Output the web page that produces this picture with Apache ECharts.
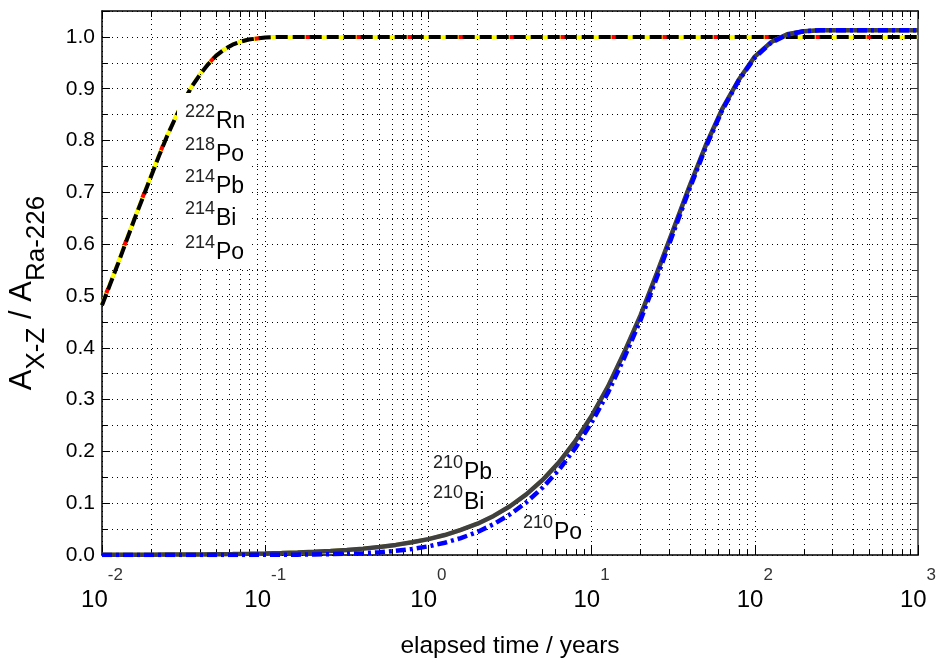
<!DOCTYPE html>
<html><head><meta charset="utf-8">
<script src="https://cdn.jsdelivr.net/npm/echarts@6/dist/echarts.min.js"></script>
<style>html,body{margin:0;padding:0;background:#fff}#c{width:937px;height:660px}</style>
</head><body><div id="c"></div>
<script>
// ---- data ----
// short-lived 222Rn daughters (time in years)
const tShort = [0.01, 0.0112, 0.0126, 0.0141, 0.0158, 0.0178, 0.02, 0.0224, 0.0251, 0.0282,
  0.0316, 0.0355, 0.0398, 0.0447, 0.0501, 0.0562, 0.0631, 0.0708, 0.0794, 0.0891,
  0.1, 0.126, 0.2, 1, 10, 100, 1000];
const rn222 = [0.484, 0.524, 0.566, 0.608, 0.650, 0.692, 0.733, 0.773, 0.810, 0.845,
  0.877, 0.905, 0.928, 0.948, 0.964, 0.976, 0.985, 0.991, 0.995, 0.997,
  0.999, 1.000, 1.000, 1.000, 1.000, 1.000, 1.000];
const po218 = [0.484, 0.524, 0.566, 0.608, 0.650, 0.692, 0.733, 0.773, 0.810, 0.845,
  0.877, 0.905, 0.928, 0.948, 0.964, 0.976, 0.985, 0.991, 0.995, 0.997,
  0.999, 1.000, 1.000, 1.000, 1.000, 1.000, 1.000];
const pb214 = [0.483, 0.523, 0.565, 0.607, 0.649, 0.691, 0.732, 0.772, 0.809, 0.844,
  0.876, 0.904, 0.928, 0.948, 0.964, 0.976, 0.985, 0.991, 0.995, 0.997,
  0.999, 1.000, 1.000, 1.000, 1.000, 1.000, 1.000];
const bi214 = [0.482, 0.522, 0.564, 0.606, 0.648, 0.690, 0.731, 0.771, 0.809, 0.844,
  0.876, 0.904, 0.927, 0.947, 0.964, 0.976, 0.985, 0.991, 0.995, 0.997,
  0.999, 1.000, 1.000, 1.000, 1.000, 1.000, 1.000];
const po214 = [0.482, 0.522, 0.564, 0.606, 0.648, 0.690, 0.731, 0.771, 0.809, 0.844,
  0.876, 0.904, 0.927, 0.947, 0.964, 0.976, 0.985, 0.991, 0.995, 0.997,
  0.999, 1.000, 1.000, 1.000, 1.000, 1.000, 1.000];
// long-lived 210Pb chain
const tLong = [0.01, 0.0126, 0.0158, 0.02, 0.0251, 0.0316, 0.0398, 0.0501, 0.0631, 0.0794,
  0.1, 0.126, 0.158, 0.2, 0.251, 0.316, 0.398, 0.501, 0.631, 0.794,
  1, 1.26, 1.58, 2, 2.51, 3.16, 3.98, 5.01, 6.31, 7.94,
  10, 12.6, 15.8, 20, 25.1, 31.6, 39.8, 50.1, 63.1, 79.4,
  100, 126, 158, 200, 251, 316, 398, 501, 631, 794, 1000];
const pb210 = [0.0003, 0.0004, 0.0005, 0.0006, 0.0008, 0.0010, 0.0012, 0.0016, 0.0020, 0.0025,
  0.0031, 0.0039, 0.0049, 0.0062, 0.0078, 0.0098, 0.0123, 0.0155, 0.0195, 0.0245,
  0.0307, 0.0385, 0.0483, 0.0604, 0.0754, 0.0940, 0.1169, 0.1449, 0.1788, 0.2196,
  0.2682, 0.3250, 0.3903, 0.4636, 0.5436, 0.6274, 0.7115, 0.7909, 0.8605, 0.9163,
  0.962, 0.990, 1.005, 1.011, 1.013, 1.013, 1.013, 1.013, 1.013, 1.013, 1.013];
const bi210 = [0.0003, 0.0004, 0.0005, 0.0006, 0.0008, 0.0010, 0.0012, 0.0016, 0.0020, 0.0025,
  0.0031, 0.0039, 0.0049, 0.0062, 0.0078, 0.0098, 0.0123, 0.0155, 0.0195, 0.0245,
  0.0307, 0.0385, 0.0483, 0.0604, 0.0754, 0.0940, 0.1169, 0.1449, 0.1788, 0.2196,
  0.2682, 0.3250, 0.3903, 0.4636, 0.5436, 0.6274, 0.7115, 0.7909, 0.8605, 0.9163,
  0.962, 0.990, 1.005, 1.011, 1.013, 1.013, 1.013, 1.013, 1.013, 1.013, 1.013];
const po210 = [0.0000, 0.0000, 0.0000, 0.0000, 0.0000, 0.0000, 0.0001, 0.0001, 0.0001, 0.0002,
  0.0003, 0.0004, 0.0007, 0.0010, 0.0016, 0.0024, 0.0036, 0.0054, 0.0080, 0.0117,
  0.0167, 0.0236, 0.0327, 0.0445, 0.0596, 0.0783, 0.1016, 0.1300, 0.1646, 0.2061,
  0.2555, 0.3133, 0.3797, 0.4543, 0.5356, 0.6209, 0.7065, 0.7873, 0.8581, 0.9148,
  0.960, 0.989, 1.004, 1.011, 1.013, 1.013, 1.013, 1.013, 1.013, 1.013, 1.013];
const decades = [-2, -1, 0, 1, 2];
const minorMult = [2, 3, 4, 5, 6, 7, 8, 9];
const xMin = 0.01, xMax = 1000;
const yMin = 0, yMax = 1.05;

// ---- chart ----
const FONT = 'Liberation Sans';
const dotted = {color: '#000', width: 1, type: [1, 4]};
const pair = (t, v) => t.map((x, i) => [x, v[i]]);
const chart = echarts.init(document.getElementById('c'));

function line(name, t, v, color, width, dash, z, extra) {
  return {
    name, type: 'line', data: pair(t, v), showSymbol: false, symbol: 'none',
    xAxisIndex: 0, yAxisIndex: 0, z: z, animation: false, silent: true,
    lineStyle: Object.assign({color, width, type: dash || 'solid', cap: 'butt'}, extra || {})
  };
}

// minor log positions for the x axis (2..9 x 10^d)
const minorX = [];
decades.forEach(d => minorMult.forEach(k => minorX.push(+(k * Math.pow(10, d)).toPrecision(3))));
const tickLen = (yMax - yMin) * 6 / 544;

const supStyle = {fontFamily: FONT, fontSize: 18, fill: '#222'};
const mainStyle = {fontFamily: FONT, fontSize: 23, fill: '#000'};
function lbl(sup, main, x, yMain) {
  return [
    {type: 'text', z: 101, x: x, y: yMain - 9.5, style: Object.assign({text: sup, verticalAlign: 'middle', align: 'left'}, supStyle)},
    {type: 'text', z: 101, x: x + 31, y: yMain, style: Object.assign({text: main, verticalAlign: 'middle', align: 'left'}, mainStyle)}
  ];
}
const graphics = [
  {type: 'rect', z: 100, shape: {x: 177, y: 93, width: 75, height: 173}, style: {fill: '#fff'}},
  {type: 'rect', z: 100, shape: {x: 429, y: 452, width: 62, height: 59}, style: {fill: '#fff'}},
  {type: 'rect', z: 100, shape: {x: 520, y: 515, width: 68, height: 32}, style: {fill: '#fff'}},
  ...lbl('222', 'Rn', 185, 122),
  ...lbl('218', 'Po', 185, 155),
  ...lbl('214', 'Pb', 185, 187),
  ...lbl('214', 'Bi', 185, 219),
  ...lbl('214', 'Po', 185, 253),
  ...lbl('210', 'Pb', 433, 473),
  ...lbl('210', 'Bi', 433, 503),
  ...lbl('210', 'Po', 523, 533),
  {
    type: 'text', z: 101, x: 22, y: 293, rotation: Math.PI / 2,
    style: {
      text: '{a|A}{s|X-Z}{a| / A}{s|Ra-226}', align: 'center', verticalAlign: 'middle',
      rich: {
        a: {fontFamily: FONT, fontSize: 31, fill: '#000', lineHeight: 34},
        s: {fontFamily: FONT, fontSize: 26, fill: '#000', lineHeight: 34, padding: [29, 0, 0, 0]}
      }
    }
  }
];

const yCommon = {type: 'value', min: yMin, max: yMax, alignTicks: false};
const option = {
  backgroundColor: '#fff',
  animation: false,
  grid: {left: 102, right: 19, top: 11, bottom: 105, containLabel: false, outerBoundsMode: 'none'},
  xAxis: [
    {
      type: 'log', logBase: 10, min: xMin, max: xMax, splitNumber: 5, position: 'bottom',
      axisLine: {show: true, onZero: false, lineStyle: {color: '#000', width: 1.5}},
      axisTick: {show: true, inside: true, length: 10, lineStyle: {color: '#000'}},
      splitLine: {show: true, lineStyle: dotted},
      axisLabel: {
        margin: 30,
        formatter: v => '{b|10}{e|' + Math.round(Math.log10(v)) + '}',
        rich: {
          b: {fontFamily: FONT, fontSize: 24, color: '#000', lineHeight: 30},
          e: {fontFamily: FONT, fontSize: 17, color: '#333', lineHeight: 30, padding: [0, 0, 50, 0]}
        }
      },
      name: 'elapsed time / years', nameLocation: 'middle', nameGap: 79, nameMoveOverlap: false,
      nameTextStyle: {fontFamily: FONT, fontSize: 24.5, color: '#000'}
    },
    {
      type: 'log', logBase: 10, min: xMin, max: xMax, splitNumber: 5, position: 'top',
      axisLine: {show: true, onZero: false, lineStyle: {color: '#000', width: 1.5}},
      axisTick: {show: true, inside: true, length: 8, lineStyle: {color: '#000'}},
      splitLine: {show: false}, axisLabel: {show: false}
    }
  ],
  yAxis: [
    Object.assign({}, yCommon, {
      position: 'left', interval: 0.1,
      axisLine: {show: true, onZero: false, lineStyle: {color: '#000', width: 1.5}},
      axisTick: {show: true, inside: true, length: 8, lineStyle: {color: '#000'}},
      splitLine: {show: true, lineStyle: dotted},
      axisLabel: {
        margin: 7, fontFamily: FONT, fontSize: 21, color: '#000',
        formatter: v => (Math.abs(v - 1.05) < 1e-6 ? '' : v.toFixed(1))
      }
    }),
    Object.assign({}, yCommon, {
      position: 'left', interval: 0.05,
      axisLine: {show: false},
      axisTick: {show: true, inside: true, length: 5, lineStyle: {color: '#000'}},
      splitLine: {show: true, lineStyle: dotted},
      axisLabel: {show: false}
    }),
    Object.assign({}, yCommon, {
      position: 'right', interval: 0.1,
      axisLine: {show: true, onZero: false, lineStyle: {color: '#666', width: 2}},
      axisTick: {show: true, inside: true, length: 8, lineStyle: {color: '#333'}},
      splitLine: {show: false}, axisLabel: {show: false}
    }),
    Object.assign({}, yCommon, {
      position: 'right', interval: 0.05,
      axisLine: {show: false},
      axisTick: {show: true, inside: true, length: 5, lineStyle: {color: '#333'}},
      splitLine: {show: false}, axisLabel: {show: false}
    })
  ],
  series: [
    {
      name: 'minor-grid', type: 'line', data: [[xMin, yMin]], symbol: 'none', showSymbol: false,
      lineStyle: {opacity: 0}, z: 1, silent: true,
      markLine: {
        silent: true, symbol: 'none', label: {show: false}, animation: false,
        lineStyle: dotted,
        data: minorX.map(v => [{coord: [v, yMin]}, {coord: [v, yMax]}])
      }
    },
    {
      name: 'minor-ticks', type: 'line', data: [[xMin, yMin]], symbol: 'none', showSymbol: false,
      lineStyle: {opacity: 0}, z: 1, silent: true,
      markLine: {
        silent: true, symbol: 'none', label: {show: false}, animation: false,
        lineStyle: {color: '#000', width: 1, type: 'solid'},
        data: minorX.map(v => [{coord: [v, yMin]}, {coord: [v, yMin + tickLen]}])
          .concat(minorX.map(v => [{coord: [v, yMax]}, {coord: [v, yMax - tickLen]}]))
      }
    },
    line('214Pb', tShort, pb214, '#0000ff', 3, 'solid', 3),
    line('214Bi', tShort, bi214, '#00a000', 3, 'solid', 3),
    line('222Rn', tShort, rn222, '#ffff00', 4, 'solid', 4),
    line('218Po', tShort, po218, '#ff0000', 4, [5, 46], 5, {dashOffset: 39}),
    line('214Po', tShort, po214, '#000000', 4, [12, 5], 6),
    line('210Bi', tLong, bi210, '#c8c800', 4, 'solid', 7),
    line('210Pb', tLong, pb210, '#404040', 4.5, 'solid', 8),
    line('210Po', tLong, po210, '#0000ff', 4.5, [10, 4, 3, 4], 9)
  ],
  graphic: graphics
};
chart.setOption(option);
</script>
</body></html>
